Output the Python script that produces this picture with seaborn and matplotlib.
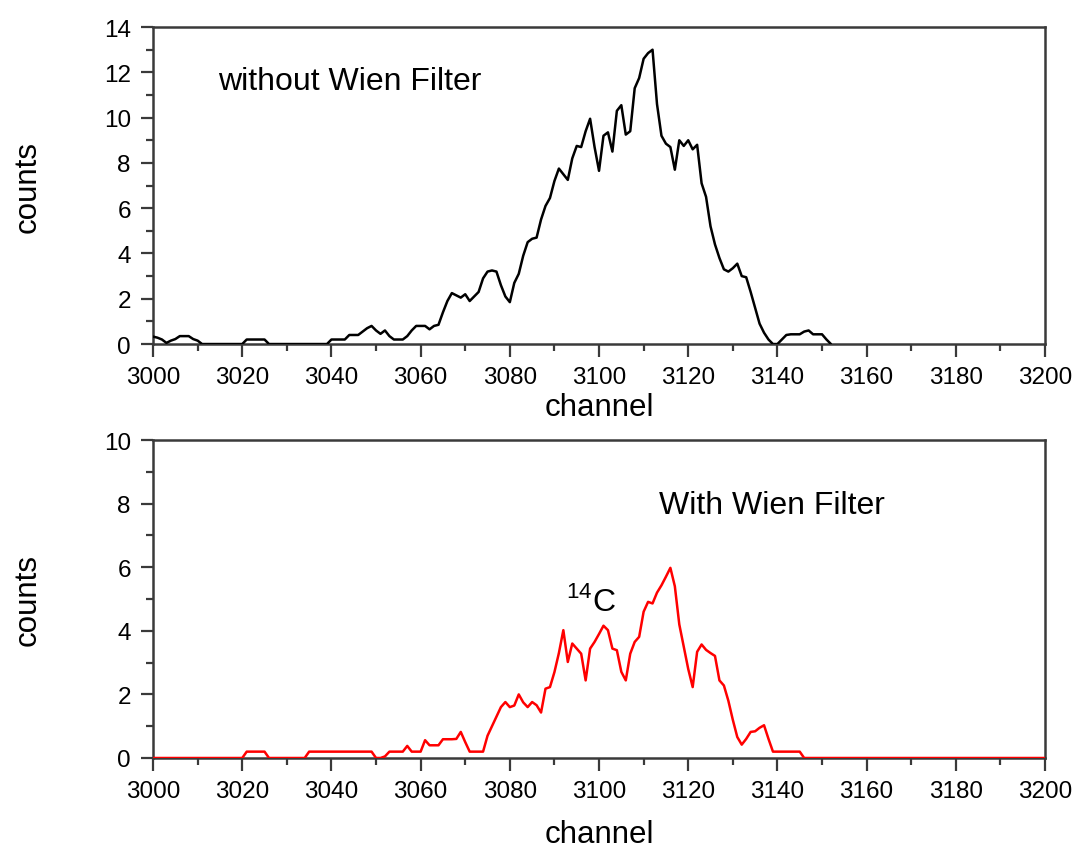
import numpy as np
import pandas as pd
import matplotlib
matplotlib.use("Agg")
import matplotlib.pyplot as plt
from matplotlib.ticker import MultipleLocator
import seaborn as sns

# Spectrum without the Wien filter (channels 3000..3152)
channels_top = list(range(3000, 3153))
counts_top = (
    [0.33, 0.28, 0.2, 0.05, 0.15, 0.22, 0.35, 0.35, 0.35, 0.22, 0.15, 0.0]      # 3000-3011
    + [0.0] * 9                                                                  # 3012-3020
    + [0.2, 0.2, 0.2, 0.2, 0.2]                                                  # 3021-3025
    + [0.0] * 14                                                                 # 3026-3039
    + [0.2, 0.2, 0.2, 0.2, 0.4, 0.4, 0.4, 0.55, 0.7, 0.8,                        # 3040-3049
       0.6, 0.45, 0.6, 0.35, 0.2, 0.2, 0.2, 0.35, 0.6, 0.8,                      # 3050-3059
       0.8, 0.8, 0.65, 0.8, 0.85, 1.4, 1.9, 2.25, 2.15, 2.05,                    # 3060-3069
       2.2, 1.9, 2.1, 2.3, 2.9, 3.2, 3.25, 3.2, 2.6, 2.1,                        # 3070-3079
       1.85, 2.7, 3.1, 3.9, 4.5, 4.65, 4.7, 5.5, 6.1, 6.45,                      # 3080-3089
       7.2, 7.75, 7.5, 7.25, 8.2, 8.75, 8.7, 9.4, 9.95, 8.7,                     # 3090-3099
       7.65, 9.2, 9.35, 8.5, 10.3, 10.55, 9.25, 9.4, 11.3, 11.75,                # 3100-3109
       12.6, 12.85, 13.0, 10.6, 9.2, 8.85, 8.7, 7.7, 9.0, 8.75,                  # 3110-3119
       9.0, 8.6, 8.8, 7.1, 6.5, 5.2, 4.4, 3.8, 3.3, 3.2,                         # 3120-3129
       3.35, 3.55, 3.0, 2.95, 2.3, 1.6, 0.9, 0.5, 0.2, 0.0,                      # 3130-3139
       0.0, 0.2, 0.4, 0.43, 0.43, 0.43, 0.55, 0.6, 0.43, 0.43,                   # 3140-3149
       0.43, 0.2, 0.0]                                                           # 3150-3152
)

# Spectrum with the Wien filter (channels 3000..3200)
channels_bot = list(range(3000, 3201))
counts_bot = (
    [0.0] * 21                                                                   # 3000-3020
    + [0.2] * 5                                                                  # 3021-3025
    + [0.0] * 9                                                                  # 3026-3034
    + [0.2] * 15                                                                 # 3035-3049
    + [0.0, 0.0, 0.05, 0.2, 0.2, 0.2, 0.2, 0.38, 0.2, 0.2,                       # 3050-3059
       0.2, 0.56, 0.4, 0.4, 0.4, 0.59, 0.59, 0.59, 0.6, 0.82,                    # 3060-3069
       0.5, 0.2, 0.2, 0.2, 0.2, 0.7, 1.0, 1.3, 1.6, 1.76,                        # 3070-3079
       1.6, 1.65, 2.0, 1.75, 1.6, 1.76, 1.66, 1.43, 2.18, 2.23,                  # 3080-3089
       2.7, 3.3, 4.02, 3.02, 3.6, 3.44, 3.28, 2.44, 3.44, 3.65,                  # 3090-3099
       3.9, 4.16, 4.02, 3.44, 3.39, 2.71, 2.44, 3.28, 3.65, 3.81,                # 3100-3109
       4.6, 4.91, 4.86, 5.2, 5.43, 5.7, 5.98, 5.4, 4.2, 3.5,                     # 3110-3119
       2.8, 2.23, 3.34, 3.57, 3.4, 3.3, 3.21, 2.44, 2.28, 1.8,                   # 3120-3129
       1.2, 0.66, 0.42, 0.6, 0.82, 0.84, 0.95, 1.03, 0.6, 0.2,                   # 3130-3139
       0.2, 0.2, 0.2, 0.2, 0.2, 0.2]                                             # 3140-3145
    + [0.0] * 55                                                                 # 3146-3200
)

x_ticks = list(range(3000, 3201, 20))
y_ticks_top = list(range(0, 15, 2))
y_ticks_bot = list(range(0, 11, 2))

df_top = pd.DataFrame({"channel": channels_top, "counts": counts_top})
df_bot = pd.DataFrame({"channel": channels_bot, "counts": counts_bot})

sns.set_style("white")
plt.rcParams["font.family"] = ["Liberation Sans", "DejaVu Sans"]
plt.rcParams["text.color"] = "black"
plt.rcParams["axes.labelcolor"] = "black"
plt.rcParams["xtick.color"] = "black"
plt.rcParams["ytick.color"] = "black"

fig = plt.figure(figsize=(10.74, 8.53), dpi=100)
ax1 = fig.add_axes([0.1425, 0.5955, 0.8305, 0.3716])
ax2 = fig.add_axes([0.1425, 0.1102, 0.8305, 0.3728])

sns.lineplot(data=df_top, x="channel", y="counts", ax=ax1, color="black",
             linewidth=1.8, zorder=3)
sns.lineplot(data=df_bot, x="channel", y="counts", ax=ax2, color="#ff0000",
             linewidth=1.8, zorder=3)

spine_color = "#3a3a3a"
for ax, yt, ymax in ((ax1, y_ticks_top, 14), (ax2, y_ticks_bot, 10)):
    ax.set_xlim(3000, 3200)
    ax.set_ylim(0, ymax)
    ax.set_xticks(x_ticks)
    ax.set_yticks(yt)
    ax.xaxis.set_minor_locator(MultipleLocator(10))
    ax.yaxis.set_minor_locator(MultipleLocator(1))
    ax.tick_params(axis="both", which="major", direction="out", length=9,
                   width=1.6, color=spine_color, labelsize=17.5, pad=7,
                   labelcolor="black",
                   bottom=True, left=True, top=False, right=False)
    ax.tick_params(axis="both", which="minor", direction="out", length=5,
                   width=1.6, color=spine_color,
                   bottom=True, left=True, top=False, right=False)
    for side in ("left", "right", "top", "bottom"):
        ax.spines[side].set_visible(True)
        ax.spines[side].set_color(spine_color)
        ax.spines[side].set_linewidth(1.8)
    ax.grid(False)

ax1.set_xlabel("channel", fontsize=22.5, labelpad=3)
ax1.set_ylabel("counts", fontsize=22.5, labelpad=44)
ax2.set_xlabel("channel", fontsize=22.5, labelpad=12)
ax2.set_ylabel("counts", fontsize=22.5, labelpad=44)

ax1.text(3014.5, 11.6, "without Wien Filter", fontsize=23, ha="left", va="center")
ax2.text(3113.5, 7.95, "With Wien Filter", fontsize=23, ha="left", va="center")
ax2.text(3092.5, 4.95, r"$^{\mathregular{14}}$C", fontsize=23, ha="left", va="center")

fig.savefig("out.png", dpi=100)
